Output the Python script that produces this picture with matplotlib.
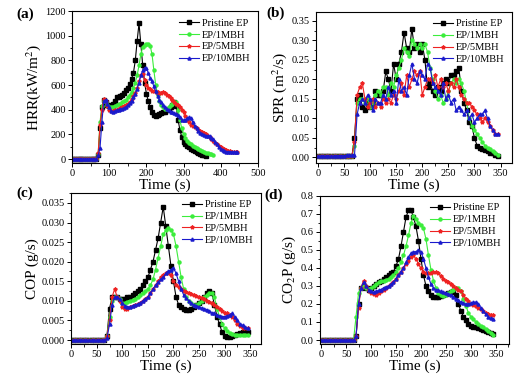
"""Cone calorimeter curves (HRR, SPR, COP, CO2P) for EP and EP/MBH composites."""
import matplotlib
matplotlib.use("Agg")
import matplotlib.pyplot as plt
import numpy as np
from matplotlib.ticker import MultipleLocator, FormatStrFormatter

plt.rcParams["font.family"] = ["Liberation Serif", "DejaVu Serif"]
plt.rcParams["mathtext.fontset"] = "stix"

STEP = 5  # sampling interval of the cone calorimeter, s
labels = ["Pristine EP", "EP/1MBH", "EP/5MBH", "EP/10MBH"]
colors = ["#000000", "#3ced3c", "#ee2222", "#1a1acc"]
markers = ["s", "o", "*", "^"]

# (a) heat release rate, kW/m2
hrr_ep = [0, 0, 0, 0, 0, 0, 0, 0, 0, 0, 0, 0, 0, 0,
          30, 250, 420, 480, 460, 440, 430, 440, 450, 470, 500, 505, 510, 520,
          540, 560, 580, 610, 650, 700, 800, 960, 1100, 930, 760, 620, 530, 470,
          420, 380, 360, 350, 355, 365, 375, 380, 385, 395, 405, 420, 440, 465,
          430, 320, 240, 180, 140, 120, 105, 95, 85, 75, 65, 55, 50, 45, 35, 30, 28]
hrr_1 = [0, 0, 0, 0, 0, 0, 0, 0, 0, 0, 0, 0, 0, 0,
         40, 300, 430, 470, 460, 440, 425, 420, 425, 430, 440, 445, 450, 460,
         470, 480, 500, 520, 545, 580, 620, 680, 760, 850, 910, 925, 930, 930,
         920, 850, 720, 600, 520, 470, 440, 420, 410, 410, 420, 435, 450, 465,
         460, 400, 320, 250, 200, 170, 150, 135, 120, 110, 100, 90, 80, 72, 65,
         58, 52, 46, 42, 38, 35]
hrr_5 = [0, 0, 0, 0, 0, 0, 0, 0, 0, 0, 0, 0, 0, 0,
         50, 280, 400, 490, 470, 430, 400, 390, 390, 395, 400, 410, 415, 425,
         430, 440, 450, 465, 485, 510, 540, 580, 630, 680, 690, 640, 600, 580,
         565, 555, 550, 545, 545, 540, 540, 545, 535, 520, 510, 495, 480, 465,
         450, 440, 420, 400, 380, 350, 320, 300, 280, 270, 260, 250, 240, 230,
         220, 215, 205, 190, 180, 165, 150, 135, 120, 105, 95, 85, 80, 72, 68,
         65, 62, 60, 60, 60]
hrr_10 = [0, 0, 0, 0, 0, 0, 0, 0, 0, 0, 0, 0, 0, 0,
          30, 90, 300, 470, 480, 450, 420, 390, 385, 390, 395, 400, 405, 410,
          415, 425, 440, 455, 475, 500, 530, 570, 620, 680, 720, 740, 735, 700,
          660, 630, 590, 550, 510, 480, 460, 440, 420, 405, 395, 385, 380, 375,
          365, 355, 340, 320, 315, 320, 330, 340, 330, 300, 270, 250, 230, 215,
          205, 195, 190, 190, 185, 175, 160, 140, 120, 100, 85, 75, 68, 62, 60,
          58, 58, 58, 58, 58]

# (b) smoke production rate, m2/s
spr_ep = [0.002, 0.002, 0.002, 0.002, 0.002, 0.002, 0.002, 0.002, 0.002, 0.002,
          0.002, 0.002, 0.002, 0.002,
          0.05, 0.15, 0.16, 0.13, 0.12, 0.14, 0.13, 0.14, 0.17, 0.16, 0.16, 0.17,
          0.22, 0.20, 0.17, 0.24, 0.20, 0.24, 0.27, 0.32, 0.28, 0.27, 0.33, 0.28,
          0.29, 0.27, 0.29, 0.25, 0.18, 0.19, 0.17, 0.16, 0.18, 0.17, 0.19, 0.20,
          0.19, 0.21, 0.21, 0.22, 0.23, 0.17, 0.14, 0.12, 0.09, 0.08, 0.05, 0.03,
          0.025, 0.02, 0.018, 0.015, 0.012, 0.01, 0.007, 0.004]
spr_1 = [0.002, 0.002, 0.002, 0.002, 0.002, 0.002, 0.002, 0.002, 0.002, 0.002,
         0.002, 0.002, 0.002, 0.002,
         0.03, 0.14, 0.15, 0.15, 0.14, 0.15, 0.13, 0.14, 0.16, 0.17, 0.16, 0.18,
         0.18, 0.16, 0.19, 0.18, 0.21, 0.23, 0.25, 0.28, 0.27, 0.26, 0.30, 0.29,
         0.28, 0.29, 0.28, 0.29, 0.27, 0.23, 0.20, 0.17, 0.15, 0.16, 0.14, 0.15,
         0.17, 0.19, 0.20, 0.19, 0.20, 0.19, 0.17, 0.14, 0.10, 0.08, 0.07, 0.06,
         0.05, 0.04, 0.03, 0.025, 0.02, 0.015, 0.01, 0.006]
spr_5 = [0.002, 0.002, 0.002, 0.002, 0.002, 0.002, 0.002, 0.002, 0.002, 0.002,
         0.002, 0.002, 0.002, 0.002,
         0.04, 0.16, 0.18, 0.19, 0.15, 0.13, 0.14, 0.15, 0.13, 0.14, 0.13, 0.15,
         0.14, 0.15, 0.14, 0.16, 0.15, 0.17, 0.19, 0.16, 0.21, 0.18, 0.20, 0.22,
         0.21, 0.22, 0.16, 0.18, 0.20, 0.20, 0.19, 0.21, 0.18, 0.20, 0.18, 0.19,
         0.17, 0.19, 0.18, 0.20, 0.18, 0.16, 0.15, 0.14, 0.14, 0.13, 0.12, 0.11,
         0.10, 0.09, 0.10, 0.09, 0.08, 0.07, 0.06, 0.06]
spr_10 = [0.003, 0.003, 0.003, 0.003, 0.003, 0.003, 0.003, 0.004, 0.004, 0.004,
          0.004, 0.005, 0.005, 0.005,
          0.005, 0.11, 0.14, 0.15, 0.14, 0.16, 0.15, 0.12, 0.15, 0.14, 0.14, 0.16,
          0.15, 0.18, 0.16, 0.17, 0.14, 0.20, 0.17, 0.18, 0.16, 0.21, 0.24, 0.20,
          0.19, 0.22, 0.21, 0.20, 0.24, 0.23, 0.19, 0.18, 0.17, 0.16, 0.19, 0.15,
          0.16, 0.14, 0.15, 0.12, 0.13, 0.12, 0.11, 0.12, 0.10, 0.11, 0.09, 0.10,
          0.11, 0.11, 0.12, 0.10, 0.08, 0.07, 0.06, 0.06]

# (c) CO production, g/s
cop_ep = [0, 0, 0, 0, 0, 0, 0, 0, 0, 0, 0, 0, 0, 0,
          0.001, 0.008, 0.011, 0.011, 0.011, 0.0105, 0.0105, 0.0105, 0.011, 0.011,
          0.0115, 0.012, 0.0125, 0.013, 0.014, 0.015, 0.016, 0.018, 0.020, 0.023,
          0.026, 0.030, 0.034, 0.029, 0.024, 0.019, 0.015, 0.011, 0.009, 0.0085,
          0.008, 0.0078, 0.0078, 0.008, 0.0085, 0.009, 0.0095, 0.010, 0.011, 0.012,
          0.0125, 0.012, 0.009, 0.006, 0.004, 0.002, 0.001, 0.0008, 0.0008, 0.001,
          0.0012, 0.0015, 0.0018, 0.002, 0.002, 0.002]
cop_1 = [0, 0, 0, 0, 0, 0, 0, 0, 0, 0, 0, 0, 0, 0,
         0.001, 0.006, 0.010, 0.011, 0.011, 0.0105, 0.0095, 0.0095, 0.0098, 0.010,
         0.0102, 0.0105, 0.011, 0.0115, 0.012, 0.0125, 0.013, 0.014, 0.0155, 0.018,
         0.021, 0.024, 0.027, 0.028, 0.0285, 0.028, 0.027, 0.024, 0.020, 0.016,
         0.013, 0.011, 0.010, 0.0095, 0.009, 0.009, 0.0095, 0.010, 0.011, 0.0115,
         0.012, 0.012, 0.011, 0.008, 0.006, 0.004, 0.003, 0.0022, 0.0018, 0.0015,
         0.0014, 0.0014, 0.0014, 0.0014, 0.0014, 0.0014]
cop_5 = [0, 0, 0, 0, 0, 0, 0, 0, 0, 0, 0, 0, 0, 0,
         0.001, 0.005, 0.011, 0.013, 0.011, 0.010, 0.0085, 0.008, 0.008, 0.0085,
         0.0088, 0.009, 0.0092, 0.0095, 0.010, 0.0105, 0.011, 0.012, 0.013, 0.014,
         0.015, 0.016, 0.0165, 0.017, 0.017, 0.0165, 0.015, 0.014, 0.0135, 0.013,
         0.0125, 0.0122, 0.012, 0.0118, 0.0115, 0.0112, 0.011, 0.0108, 0.0105,
         0.010, 0.0098, 0.0095, 0.009, 0.0085, 0.008, 0.0075, 0.007, 0.0068,
         0.0065, 0.006, 0.005, 0.004, 0.0035, 0.003, 0.003, 0.003]
cop_10 = [0, 0, 0, 0, 0, 0, 0, 0, 0, 0, 0, 0, 0, 0,
          0.0005, 0.004, 0.009, 0.011, 0.011, 0.0105, 0.0095, 0.0088, 0.0085,
          0.0085, 0.0088, 0.009, 0.0092, 0.0095, 0.010, 0.0105, 0.011, 0.012,
          0.013, 0.014, 0.0148, 0.0155, 0.016, 0.017, 0.0175, 0.018, 0.0185, 0.017,
          0.015, 0.013, 0.0115, 0.0108, 0.010, 0.0095, 0.009, 0.0088, 0.0085,
          0.0082, 0.008, 0.0078, 0.0075, 0.007, 0.0068, 0.0065, 0.0062, 0.006,
          0.006, 0.0062, 0.0065, 0.0068, 0.006, 0.005, 0.0042, 0.0038, 0.0033,
          0.003]

# (d) CO2 production, g/s
co2_ep = [0, 0, 0, 0, 0, 0, 0, 0, 0, 0, 0, 0, 0, 0,
          0.02, 0.20, 0.29, 0.30, 0.29, 0.28, 0.29, 0.30, 0.31, 0.32, 0.33, 0.34,
          0.35, 0.36, 0.37, 0.38, 0.41, 0.45, 0.52, 0.60, 0.68, 0.72, 0.72, 0.68,
          0.63, 0.55, 0.45, 0.36, 0.30, 0.27, 0.25, 0.24, 0.24, 0.24, 0.245, 0.25,
          0.255, 0.26, 0.265, 0.27, 0.25, 0.20, 0.16, 0.13, 0.11, 0.09, 0.08,
          0.075, 0.07, 0.065, 0.06, 0.055, 0.05, 0.045, 0.04, 0.035]
co2_1 = [0, 0, 0, 0, 0, 0, 0, 0, 0, 0, 0, 0, 0, 0,
         0.13, 0.26, 0.29, 0.30, 0.29, 0.285, 0.29, 0.30, 0.31, 0.32, 0.325, 0.33,
         0.335, 0.34, 0.35, 0.36, 0.38, 0.40, 0.43, 0.47, 0.52, 0.58, 0.65, 0.69,
         0.67, 0.65, 0.64, 0.62, 0.56, 0.47, 0.39, 0.33, 0.29, 0.26, 0.25, 0.245,
         0.25, 0.26, 0.27, 0.28, 0.29, 0.29, 0.27, 0.23, 0.19, 0.15, 0.13, 0.115,
         0.10, 0.09, 0.08, 0.07, 0.06, 0.05, 0.04, 0.03]
co2_5 = [0, 0, 0, 0, 0, 0, 0, 0, 0, 0, 0, 0, 0, 0,
         0.02, 0.18, 0.29, 0.33, 0.30, 0.27, 0.26, 0.255, 0.25, 0.26, 0.27, 0.28,
         0.29, 0.30, 0.31, 0.32, 0.34, 0.36, 0.38, 0.40, 0.42, 0.44, 0.46, 0.47,
         0.45, 0.42, 0.40, 0.38, 0.37, 0.37, 0.37, 0.375, 0.38, 0.37, 0.355, 0.34,
         0.33, 0.32, 0.31, 0.30, 0.29, 0.28, 0.27, 0.25, 0.23, 0.215, 0.20, 0.195,
         0.19, 0.18, 0.17, 0.16, 0.15, 0.145, 0.14, 0.14]
co2_10 = [0, 0, 0, 0, 0, 0, 0, 0, 0, 0, 0, 0, 0, 0,
          0.02, 0.20, 0.29, 0.32, 0.30, 0.28, 0.27, 0.265, 0.27, 0.275, 0.28, 0.29,
          0.295, 0.30, 0.31, 0.32, 0.34, 0.36, 0.38, 0.40, 0.43, 0.46, 0.48, 0.49,
          0.49, 0.50, 0.49, 0.45, 0.40, 0.35, 0.31, 0.29, 0.28, 0.275, 0.27, 0.265,
          0.26, 0.255, 0.25, 0.24, 0.23, 0.22, 0.21, 0.205, 0.20, 0.20, 0.205,
          0.21, 0.21, 0.20, 0.18, 0.16, 0.145, 0.13, 0.12, 0.115]

# tag, series, y label, axes box, tag position (figure fraction), limits, ticks
panels = [
    ("(a)", [hrr_ep, hrr_1, hrr_5, hrr_10], "HRR(kW/m$^2$)",
     [0.138, 0.573, 0.355, 0.398], (0.032, 0.963),
     (0, 500), (-32, 1200), 100, 200, "%d"),
    ("(b)", [spr_ep, spr_1, spr_5, spr_10], "SPR (m$^2$/s)",
     [0.604, 0.573, 0.375, 0.396], (0.510, 0.966),
     (-4, 372), (-0.015, 0.373), 50, 0.05, "%.2f"),
    ("(c)", [cop_ep, cop_1, cop_5, cop_10], "COP (g/s)",
     [0.136, 0.0995, 0.363, 0.396], (0.032, 0.495),
     (0, 371), (-0.001, 0.0376), 50, 0.005, "%.3f"),
    ("(d)", [co2_ep, co2_1, co2_5, co2_10], "CO$_2$P (g/s)",
     [0.612, 0.0995, 0.361, 0.388], (0.505, 0.488),
     (-2, 376), (-0.022, 0.8), 50, 0.1, "%.1f"),
]

fig = plt.figure(figsize=(5.23, 3.82), dpi=100)
for tag, series, ylab, pos, tagpos, xlim, ylim, xmaj, ymaj, yfmt in panels:
    ax = fig.add_axes(pos)
    for vals, lab, c, m in zip(series, labels, colors, markers):
        t = np.arange(len(vals)) * STEP
        ax.plot(t, vals, color=c, marker=m, markersize=2.2 if m != "*" else 2.8,
                lw=0.8, label=lab)
    ax.set_xlim(*xlim)
    ax.set_ylim(*ylim)
    ax.xaxis.set_major_locator(MultipleLocator(xmaj))
    ax.xaxis.set_minor_locator(MultipleLocator(xmaj / 2))
    ax.yaxis.set_major_locator(MultipleLocator(ymaj))
    ax.yaxis.set_minor_locator(MultipleLocator(ymaj / 2))
    ax.yaxis.set_major_formatter(FormatStrFormatter(yfmt))
    ax.tick_params(which="both", direction="out", top=False, right=False,
                   labelsize=7.5, pad=1.5)
    ax.tick_params(which="major", length=3, width=0.7)
    ax.tick_params(which="minor", length=1.8, width=0.6)
    for s in ax.spines.values():
        s.set_linewidth(0.8)
    ax.set_xlabel("Time (s)", fontsize=11, labelpad=0)
    ax.set_ylabel(ylab, fontsize=11, labelpad=2)
    ax.legend(loc="upper right", frameon=False, fontsize=7.5, handlelength=1.9,
              handletextpad=0.3, labelspacing=0.25, borderaxespad=0.3)
    fig.text(tagpos[0], tagpos[1], tag, fontsize=11, fontweight="bold",
             va="center", ha="left")

fig.savefig("out.png", dpi=100)
